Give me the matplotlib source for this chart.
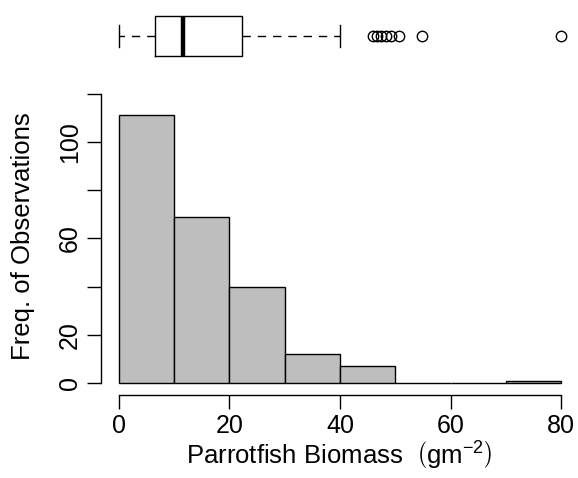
import matplotlib
matplotlib.use("Agg")
import numpy as np
import matplotlib.pyplot as plt

plt.rcParams['font.family'] = ['Liberation Sans', 'DejaVu Sans']
plt.rcParams['mathtext.fontset'] = 'custom'
plt.rcParams['mathtext.rm'] = 'Liberation Sans'
plt.rcParams['mathtext.it'] = 'Liberation Sans:italic'

# histogram (10 gm^-2 bins)
bin_edges = [0, 10, 20, 30, 40, 50, 60, 70, 80]
counts = [111, 69, 40, 12, 7, 0, 0, 1]

# boxplot summary
box_q1 = 6.6
box_med = 11.5
box_q3 = 22.2
whisk_lo = 0
whisk_hi = 40
outliers = [46.0, 46.7, 47.5, 48.4, 49.2, 50.6, 54.9, 80.0]

y_ticks = [0, 20, 40, 60, 80, 100, 120]
y_labels = ['0', '20', '', '60', '', '100', '']
x_ticks = [0, 20, 40, 60, 80]

W, H = 578, 478
fig = plt.figure(figsize=(W / 100, H / 100), dpi=100)

# R style padded limits
xlim = (-3.2, 83.2)
ylim = (-4.8, 124.8)
left, right = 101.3, 578.7
ax = fig.add_axes([left / W, 1 - 394.6 / H, (right - left) / W, (394.6 - 82) / H])

edges = np.array(bin_edges)
ax.bar(edges[:-1], counts, width=np.diff(edges), align='edge',
       color='#bebebe', edgecolor='black', linewidth=1.0)
ax.set_xlim(*xlim)
ax.set_ylim(*ylim)

for s in ['top', 'right']:
    ax.spines[s].set_visible(False)
ax.spines['left'].set_bounds(0, 120)
ax.spines['bottom'].set_bounds(0, 80)
ax.spines['left'].set_linewidth(1.0)
ax.spines['bottom'].set_linewidth(1.0)

ax.set_yticks(y_ticks)
ax.set_yticklabels(y_labels, rotation=90, va='center')
ax.set_xticks(x_ticks)
ax.tick_params(length=10, width=1.0, labelsize=18, pad=4)

fig.text(23 / W, 1 - 236.5 / H, 'Freq. of Observations', rotation=90,
         ha='center', va='center', fontsize=18.5)
fig.text(339 / W, 1 - 465 / H, r'Parrotfish Biomass  $\left(\mathrm{gm}^{-2}\right)$',
         ha='center', va='baseline', fontsize=18.5)

# boxplot on top
bx = fig.add_axes([left / W, 1 - 67 / H, (right - left) / W, 62 / H])
stats = [{'med': box_med, 'q1': box_q1, 'q3': box_q3,
          'whislo': whisk_lo, 'whishi': whisk_hi, 'fliers': outliers}]
bx.bxp(stats, orientation='horizontal', widths=0.66, capwidths=0.34,
       boxprops=dict(color='black', linewidth=1.0),
       medianprops=dict(color='black', linewidth=3.2),
       whiskerprops=dict(color='black', linewidth=1.0, linestyle=(0, (6, 5))),
       capprops=dict(color='black', linewidth=1.0),
       flierprops=dict(marker='o', markersize=7.5, markerfacecolor='none',
                       markeredgecolor='black', markeredgewidth=1.0))
bx.set_xlim(*xlim)
bx.set_ylim(0.5, 1.5)
bx.axis('off')

fig.savefig('out.png', dpi=100)
